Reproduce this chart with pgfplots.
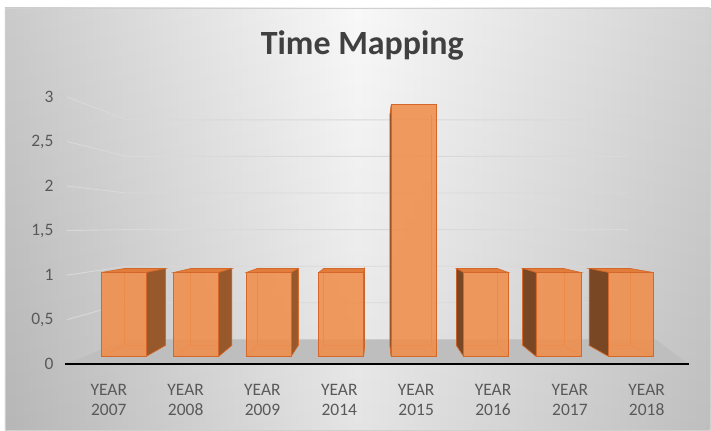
\documentclass[border=0pt]{standalone}
\usepackage{pgfplots}
\pgfplotsset{compat=1.18}
\usepackage{fontspec}
\setmainfont{Carlito}

\definecolor{titlegray}{HTML}{404040}
\definecolor{labelgray}{HTML}{595959}
\definecolor{gridgray}{HTML}{D9D9D9}
\definecolor{floorgray}{HTML}{BEBEBE}
\definecolor{baseline}{HTML}{303030}
\definecolor{panelside}{HTML}{C6C6C6}
\definecolor{panelside2}{HTML}{CFCFCF}
\definecolor{panelmid}{HTML}{F8F8F8}
\definecolor{paneledge}{HTML}{D0D0D0}
\definecolor{barfront}{HTML}{F08E4C}
\definecolor{baredge}{HTML}{D4682A}
\definecolor{barback}{HTML}{DE7A38}
\definecolor{bartop}{HTML}{E27C3A}
\definecolor{barside}{HTML}{97592C}

% perspective: vanishing point (data units) and depth of a column
\def\vpx{3.485}
\def\vpy{1.571}
\def\depth{0.083}

% one 3-D column at category position #1 with value #2
\newcommand\colbar[2]{%
  \pgfmathsetmacro\cbXl{#1-0.31}%
  \pgfmathsetmacro\cbXr{#1+0.31}%
  \pgfmathsetmacro\cbBXl{\cbXl+\depth*(\vpx-\cbXl)}%
  \pgfmathsetmacro\cbBXr{\cbXr+\depth*(\vpx-\cbXr)}%
  \pgfmathsetmacro\cbBYt{#2+\depth*(\vpy-#2)}%
  \pgfmathsetmacro\cbBYb{\depth*\vpy}%
  % hidden edges, seen through the translucent front
  \addplot[barback, line width=0.6pt, forget plot] coordinates
    {(\cbXl,0) (\cbBXl,\cbBYb) (\cbBXr,\cbBYb) (\cbXr,0)};
  \addplot[barback, line width=0.6pt, forget plot] coordinates
    {(\cbBXl,\cbBYb) (\cbBXl,\cbBYt)};
  \addplot[barback, line width=0.6pt, forget plot] coordinates
    {(\cbBXr,\cbBYb) (\cbBXr,\cbBYt)};
  % top face
  \ifdim #2pt<\vpy pt
    \addplot[fill=bartop, draw=baredge, line width=0.6pt, forget plot] coordinates
      {(\cbXl,#2) (\cbXr,#2) (\cbBXr,\cbBYt) (\cbBXl,\cbBYt)} -- cycle;
  \fi
  % side face toward the vanishing point
  \ifdim #1pt<\vpx pt
    \addplot[fill=barside, draw=baredge, line width=0.6pt, forget plot] coordinates
      {(\cbXr,0) (\cbXr,#2) (\cbBXr,\cbBYt) (\cbBXr,\cbBYb)} -- cycle;
  \else
    \addplot[fill=barside!80!black, draw=baredge, line width=0.6pt, forget plot] coordinates
      {(\cbXl,0) (\cbXl,#2) (\cbBXl,\cbBYt) (\cbBXl,\cbBYb)} -- cycle;
  \fi
  % front face
  \addplot[fill=barfront, fill opacity=0.88, draw=baredge, line width=0.8pt, forget plot] coordinates
    {(\cbXl,0) (\cbXl,#2) (\cbXr,#2) (\cbXr,0)} -- cycle;
}

\begin{document}
\begin{tikzpicture}
  % chart area
  \fill[white] (0pt,0pt) rectangle (711pt,-430pt);
  \shade[left color=panelside, right color=panelside2, middle color=panelmid]
    (5pt,-8pt) rectangle (711pt,-430pt);
  \shade[top color=white, bottom color=black, opacity=0.08]
    (5pt,-8pt) rectangle (711pt,-430pt);
  \draw[paneledge, line width=0.8pt] (5pt,-8pt) rectangle (712pt,-431pt);
  \node[anchor=base, text=titlegray, font=\fontsize{34}{40}\selectfont\bfseries]
    at (363pt,-55pt) {Time Mapping};

  \begin{axis}[
    at={(65pt,-365pt)}, anchor=south west,
    scale only axis, width=625pt, height=275pt,
    xmin=-0.813, xmax=7.796, ymin=-0.095, ymax=3.179,
    clip=false,
    axis line style={draw=none},
    major tick length=0pt,
    xtick={-0.207,0.854,1.914,2.975,4.035,5.096,6.157,7.217},
    xticklabels={{YEAR\\2007},{YEAR\\2008},{YEAR\\2009},{YEAR\\2014},
                 {YEAR\\2015},{YEAR\\2016},{YEAR\\2017},{YEAR\\2018}},
    xticklabel style={align=center, yshift=-17pt, text=labelgray,
                      font=\fontsize{17.5}{20}\selectfont},
    ytick={-0.095,0.437,0.968,1.500,2.032,2.563,3.095},
    yticklabels={0,{0,5},1,{1,5},2,{2,5},3},
    yticklabel style={xshift=-8pt, text=labelgray,
                      font=\fontsize{17.5}{20}\selectfont},
  ]
    % side wall and back wall gridlines
    \draw[gridgray, line width=0.9pt] (axis cs:-0.785,0.437) -- (axis cs:0.041,0.639) -- (axis cs:6.956,0.639);
    \draw[gridgray, line width=0.9pt] (axis cs:-0.785,0.968) -- (axis cs:0.041,1.075) -- (axis cs:6.956,1.075);
    \draw[gridgray, line width=0.9pt] (axis cs:-0.785,1.500) -- (axis cs:0.041,1.512) -- (axis cs:6.956,1.512);
    \draw[gridgray, line width=0.9pt] (axis cs:-0.785,2.032) -- (axis cs:0.041,1.948) -- (axis cs:6.956,1.948);
    \draw[gridgray, line width=0.9pt] (axis cs:-0.785,2.563) -- (axis cs:0.041,2.385) -- (axis cs:6.956,2.385);
    \draw[gridgray, line width=0.9pt] (axis cs:-0.785,3.095) -- (axis cs:0.041,2.821) -- (axis cs:6.956,2.821);
    % floor
    \fill[floorgray] (axis cs:-0.813,-0.095) -- (axis cs:7.796,-0.095)
      -- (axis cs:7.342,0.202) -- (axis cs:0.041,0.202) -- cycle;
    \draw[baseline, line width=2pt] (axis cs:-0.813,-0.095) -- (axis cs:7.796,-0.095);

    % columns: position, value
    \colbar{0}{1}  % 2007
    \colbar{1}{1}  % 2008
    \colbar{2}{1}  % 2009
    \colbar{3}{1}  % 2014
    \colbar{4}{3}  % 2015
    \colbar{5}{1}  % 2016
    \colbar{6}{1}  % 2017
    \colbar{7}{1}  % 2018
  \end{axis}
\end{tikzpicture}
\end{document}
